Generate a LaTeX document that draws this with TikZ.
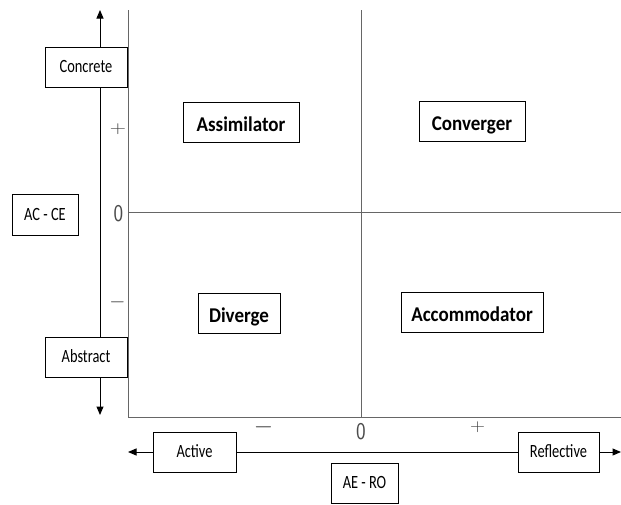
\documentclass[tikz,border=0pt]{standalone}
\usepackage{fontspec}
\setmainfont{Carlito}[FakeStretch=0.905]
\newfontfamily\lblfont{Carlito}[FakeStretch=0.77]
\usetikzlibrary{arrows.meta}
\begin{document}
\begin{tikzpicture}[x=1pt,y=-1pt,
  lbl/.style={draw=black,line width=0.8pt,fill=white,inner sep=0pt,
    text height=11pt,text depth=0pt,font=\lblfont\fontsize{18.7}{21}\selectfont},
  quad/.style={draw=black,line width=0.8pt,fill=white,inner sep=0pt,
    text height=19pt,text depth=0pt,font=\bfseries\fontsize{21}{24}\selectfont},
  grid/.style={draw=black!60,line width=1pt},
  axis/.style={draw=black,line width=1pt,-{Triangle[length=8.5pt,width=7pt]}},
  conn/.style={draw=black,line width=1pt},
  sign/.style={inner sep=0pt,text=black!75},
  zero/.style={inner sep=0pt,text=black!70,font=\sffamily\fontsize{24}{26}\selectfont}]
\useasboundingbox (0,0) rectangle (621,504);
% grid
\draw[grid] (128,10) -- (128,417) -- (621,417);
\draw[grid] (361,10) -- (361,417);
\draw[grid] (128,212.5) -- (621,212.5);
% vertical axis boxes
\node[lbl,minimum width=82pt,minimum height=40pt] (conc) at (86,67) {Concrete};
\node[lbl,minimum width=82pt,minimum height=40pt] (abst) at (86,357) {Abstract};
\node[lbl,minimum width=66pt,minimum height=41pt] (acce) at (45,214.5) {AC - CE};
\coordinate (vtop) at (100,10);
\coordinate (vbot) at (100,415);
\draw[axis] (conc.north -| vtop) -- (vtop);
\draw[conn] (conc.south -| vtop) -- (abst.north -| vtop);
\draw[axis] (abst.south -| vtop) -- (vbot);
% vertical signs
\node[sign,font=\fontsize{19}{21}\selectfont] (vp) at (118,129) {\scalebox{1.3}[1]{$+$}};
\node[zero] (vz) at (118.5,213.5) {\scalebox{0.85}[1]{0}};
\node[sign,font=\fontsize{22}{24}\selectfont] (vm) at (117.5,302) {$-$};
% quadrant boxes
\node[quad,minimum width=116pt,minimum height=40pt] (assim) at (241,122) {Assimilator};
\node[quad,minimum width=106pt,minimum height=40pt] (conv) at (472,121) {Converger};
\node[quad,minimum width=82pt,minimum height=40pt] (div) at (239,313) {Diverge};
\node[quad,minimum width=142pt,minimum height=40pt] (acc) at (472,312) {Accommodator};
% horizontal axis
\node[lbl,minimum width=83pt,minimum height=40pt] (act) at (194.5,452) {Active};
\node[lbl,minimum width=81pt,minimum height=40pt] (refl) at (558.5,452) {Reflective};
\node[lbl,minimum width=67pt,minimum height=40pt] (aero) at (364.5,483) {AE - RO};
\coordinate (hl) at (128,452);
\coordinate (hr) at (621,452);
\draw[axis] (act.west) -- (hl);
\draw[conn] (act.east) -- (refl.west);
\draw[axis] (refl.east) -- (hr);
% horizontal signs
\node[sign,font=\fontsize{24}{26}\selectfont] (hm) at (263.5,427) {$-$};
\node[zero] (hz) at (361,431.5) {\scalebox{0.85}[1]{0}};
\node[sign,font=\fontsize{19}{21}\selectfont] (hp) at (477.5,427.5) {\scalebox{1.2}[1]{$+$}};
\end{tikzpicture}
\end{document}
